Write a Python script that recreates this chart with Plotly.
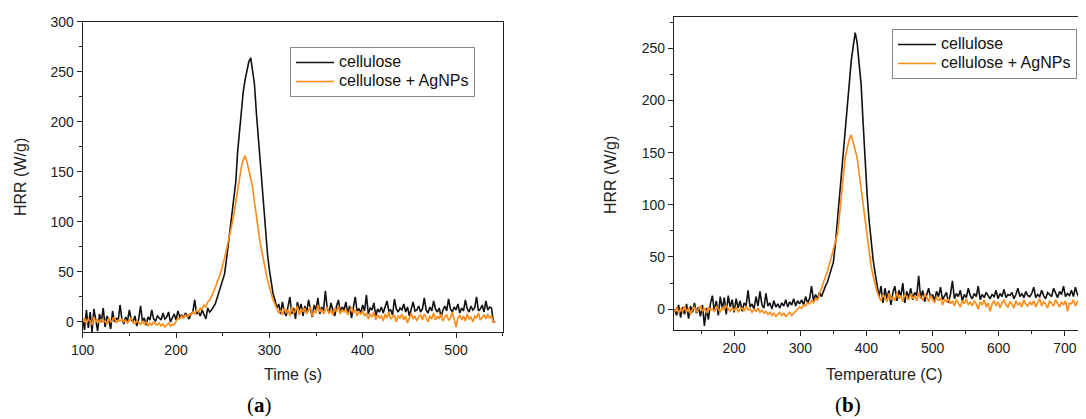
import plotly.graph_objects as go

# ---------------- data: panel (a) HRR vs time ----------------
time_s = list(range(100, 543, 2))  # sampling grid, 2 s

hrr_cellulose_time = [
    3, -8, 12, -6, 10, -10, 13, 2, -9, 8,
    0, 14, -5, 6, 2, -7, 11, 0, 4, 1,
    17, 3, -2, 5, 1, 12, 2, 0, 6, -4,
    3, 16, 1, 4, -3, 5, 2, 12, 3, 1,
    6, 4, 2, 9, 3, 5, 10, 0, 4, 8,
    2, 11, 5, 7, 4, 9, 6, 3, 8, 10,
    22, 8, 10, 6, 12, 8, 3, 14, 10, 12,
    15, 18, 24, 30, 36, 42, 48, 62, 78, 92,
    105, 122, 140, 170, 192, 210, 230, 242, 250, 260,
    264, 252, 238, 210, 185, 160, 135, 110, 88, 68,
    52, 38, 28, 22, 14, 18, 8, 20, 10, 6,
    15, 25, 8, 14, 3, 20, 12, 18, 6, 16,
    10, 22, 13, 5, 17, 12, 24, 8, 15, 11,
    31, 14, 9, 19, 12, 6, 16, 22, 10, 15,
    12, 20, 8, 16, 4, 14, 25, 11, 13, 9,
    17, 11, 27, 8, 14, 12, 19, 6, 13, 10,
    15, 9, 14, 21, 11, 12, 7, 23, 13, 10,
    14, 12, 18, 10, 15, 6, 13, 20, 11, 12,
    16, 10, 13, 24, 12, 9, 15, 11, 21, 13,
    10, 14, 5, 12, 16, 11, 23, 13, 10, 15,
    12, 18, 9, 14, 11, 22, 13, 10, 16, 12,
    14, 25, 11, 13, 17, 10, 21, 12, 15, 14,
    0, 0,
]

hrr_agnps_time = [
    0, 4, -2, 3, 1, -3, 5, 0, 2, -1,
    3, 0, 1, -2, 4, 0, 2, 5, -1, 2,
    1, 3, 0, 2, -1, 1, 4, 0, -2, 1,
    0, -3, 1, -2, 0, -4, -1, -3, 0, -2,
    -3, -1, -4, -2, -5, -3, -1, -4, -2, -3,
    0, 4, 3, 6, 4, 7, 5, 8, 7, 10,
    8, 12, 10, 14, 13, 17, 15, 20, 22, 25,
    30, 34, 40, 44, 50, 56, 64, 72, 80, 88,
    98, 108, 120, 133, 145, 155, 162, 166, 160, 152,
    145, 135, 120, 105, 93, 80, 70, 60, 52, 42,
    35, 28, 22, 18, 13, 9, 12, 7, 14, 9,
    12, 6, 15, 9, 11, 16, 7, 13, 10, 14,
    8, 12, 15, 6, 11, 9, 17, 10, 13, 8,
    12, 15, 9, 11, 7, 14, 10, 16, 8, 12,
    10, 13, 7, 11, 15, 9, 12, 6, 10, 8,
    11, 6, 9, 3, 8, 5, 10, 2, 7, 4,
    6, 1, 8, 4, 10, 3, 5, 7, 0, 6,
    4, 8, 2, 6, -1, 5, 9, 3, 6, 1,
    5, 7, 2, 8, 4, 0, 6, 3, 9, 2,
    6, 3, 8, 1, 5, 7, 2, 4, 10, 3,
    -5, 4, 7, 2, 6, 1, 8, 3, 5, 0,
    6, 4, 9, 2, 5, 7, 3, 8, 4, 6,
    0, 0,
]

# ---------------- data: panel (b) HRR vs temperature ----------------
temperature_c = list(range(110, 740, 3))  # sampling grid, 3 C

hrr_cellulose_temp = [
    0, -6, 4, -8, 2, -5, 5, -9, 3, -3,
    6, -4, 2, -7, 4, -16, 1, -10, 5, 13,
    -2, 8, -6, 12, 0, 11, -5, 13, 2, 9,
    -3, 10, 1, 8, -2, 6, 3, 18, 2, 5,
    0, 12, 3, 17, 4, 1, 15, 3, 6, 0,
    8, 2, 5, 1, 6, 3, 9, 2, 7, 4,
    10, 3, 8, 5, 9, 4, 12, 6, 10, 22,
    8, 14, 10, 16, 12, 18, 22, 26, 33, 38,
    45, 62, 85, 105, 128, 150, 175, 198, 220, 238,
    252, 265, 255, 238, 215, 178, 137, 110, 85, 65,
    48, 35, 24, 12, 22, 6, 20, 10, 18, 4,
    16, 22, 8, 18, 12, 25, 6, 17, 11, 20,
    9, 16, 13, 32, 10, 18, 7, 15, 20, 11,
    14, 8, 17, 12, 21, 9, 13, 16, 6, 14,
    27, 10, 15, 12, 18, 8, 14, 11, 20, 13,
    10, 15, 12, 22, 9, 14, 11, 16, 13, 10,
    14, 12, 18, 10, 15, 12, 19, 11, 14, 13,
    16, 10, 14, 20, 12, 15, 11, 17, 13, 12,
    15, 21, 11, 14, 12, 18, 13, 10, 16, 14,
    12, 20, 15, 11, 17, 14, 22, 12, 15, 13,
    18, 12, 21, 14, 11, 19, 13, 22, 15, 14,
]

hrr_agnps_temp = [
    -3, 2, -4, 0, -2, 3, -3, 1, -5, 0,
    2, -3, 0, 3, -2, 1, -4, 2, -1, 0,
    -2, 3, 0, -3, 2, -1, 4, 0, -2, 1,
    -1, 2, -3, 0, 1, -2, 3, -1, 0, -3,
    0, -2, 1, -3, -1, -4, -2, -5, -3, -6,
    -4, -7, -5, -3, -6, -4, -7, -5, -3, -6,
    -4, -2, 0, 2, 1, 4, 3, 6, 5, 8,
    6, 10, 9, 15, 20, 25, 31, 36, 42, 50,
    57, 65, 72, 88, 105, 128, 146, 155, 163, 167,
    160, 152, 145, 130, 115, 97, 82, 70, 55, 42,
    32, 24, 17, 12, 8, 14, 10, 7, 15, 9,
    12, 8, 16, 10, 13, 7, 14, 11, 9, 15,
    10, 13, 8, 16, 11, 9, 14, 12, 7, 13,
    10, 6, 12, 8, 11, 4, 9, 7, 10, 5,
    8, 3, 9, 6, 2, 8, 5, 10, 4, 7,
    3, 8, 5, 0, 7, 4, 9, 2, 6, -2,
    5, 8, 3, 7, 1, 6, 9, 4, 2, 7,
    5, 1, 8, 4, 6, 2, 9, 5, 3, 7,
    4, 8, 2, 6, 10, 3, 7, 5, 1, 8,
    6, 3, 9, 5, 2, 7, 4, 8, -2, 6,
    5, 9, 3, 7, 10, 4, 8, 6, 9, 11,
]

series_names = ["cellulose", "cellulose + AgNPs"]
x_title_a = "Time (s)"
x_title_b = "Temperature (C)"
y_title = "HRR (W/g)"

# ---------------- figure ----------------
BLACK = "#111111"
ORANGE = "#ff8a14"
OFF = 8                      # page body margin of the browser
W, H = 1086 - OFF, 419 - OFF
FONT = "Liberation Sans, Arial, sans-serif"
SERIF = "Liberation Serif, Times New Roman, serif"


def px_x(p):
    return (p - OFF) / W


def px_y(p):
    return 1 - (p - OFF) / H


def legend_label(name):
    return '<span style="font-size:16px">%s</span>' % name


LW = 1.6
fig = go.Figure()
fig.add_trace(go.Scatter(x=time_s, y=hrr_cellulose_time, name=legend_label(series_names[0]), mode="lines",
                         line=dict(color=BLACK, width=LW), xaxis="x", yaxis="y", legend="legend"))
fig.add_trace(go.Scatter(x=time_s, y=hrr_agnps_time, name=legend_label(series_names[1]), mode="lines",
                         line=dict(color=ORANGE, width=LW), xaxis="x", yaxis="y", legend="legend"))
fig.add_trace(go.Scatter(x=temperature_c, y=hrr_cellulose_temp, name=legend_label(series_names[0]), mode="lines",
                         line=dict(color=BLACK, width=LW), xaxis="x2", yaxis="y2", legend="legend2"))
fig.add_trace(go.Scatter(x=temperature_c, y=hrr_agnps_temp, name=legend_label(series_names[1]), mode="lines",
                         line=dict(color=ORANGE, width=LW), xaxis="x2", yaxis="y2", legend="legend2"))

axis_common = dict(
    showgrid=False, zeroline=False, showline=True, linecolor="#222", linewidth=1.2,
    ticks="outside", ticklen=5, tickwidth=1, tickcolor="#222", automargin=False,
    tickfont=dict(family=FONT, size=14, color="#222"),
)
minor_common = dict(ticks="outside", ticklen=3, tickwidth=1, tickcolor="#222")

legend_common = dict(xanchor="left", yanchor="top", bgcolor="white", bordercolor="#888",
                     borderwidth=1, font=dict(family=FONT, size=11, color="#111"),
                     tracegroupgap=0, itemwidth=38)

fig.update_layout(
    template="none",
    width=W, height=H,
    margin=dict(l=0, r=0, t=0, b=0, autoexpand=False),
    paper_bgcolor="white", plot_bgcolor="white",
    font=dict(family=FONT, color="#222"),
    xaxis=dict(axis_common, domain=[px_x(82.7), px_x(502.7)], range=[100, 550], dtick=100,
               mirror=True, anchor="y", minor=dict(minor_common, dtick=50)),
    yaxis=dict(axis_common, domain=[px_y(332), px_y(21.7)], range=[-10, 300], dtick=50,
               mirror=True, anchor="x", minor=dict(minor_common, dtick=25)),
    xaxis2=dict(axis_common, domain=[px_x(674), 1.0], range=[109, 732], dtick=100,
                mirror=True, anchor="y2", minor=dict(minor_common, dtick=50)),
    yaxis2=dict(axis_common, domain=[px_y(330), px_y(17)], range=[-20, 280], dtick=50,
                mirror=False, anchor="x2", minor=dict(minor_common, dtick=25)),
    legend=dict(legend_common, x=px_x(290), y=px_y(47)),
    legend2=dict(legend_common, x=px_x(892), y=px_y(29)),
    showlegend=True,
)

annots = [
    dict(text=x_title_a, x=px_x(293), y=px_y(374), font=dict(size=16)),
    dict(text=x_title_b, x=px_x(884), y=px_y(374), font=dict(size=16)),
    dict(text=y_title, x=px_x(20), y=px_y(177), textangle=-90, font=dict(size=16)),
    dict(text=y_title, x=px_x(610), y=px_y(175), textangle=-90, font=dict(size=16)),
    dict(text="(<b>a</b>)", x=px_x(259), y=px_y(405), font=dict(size=21, family=SERIF, color="#000")),
    dict(text="(<b>b</b>)", x=px_x(848), y=px_y(405), font=dict(size=21, family=SERIF, color="#000")),
]
for a in annots:
    f = dict(family=FONT, color="#222")
    f.update(a.pop("font"))
    fig.add_annotation(xref="paper", yref="paper", xanchor="center", yanchor="middle",
                       showarrow=False, font=f, **a)

fig.write_html("out.html")
